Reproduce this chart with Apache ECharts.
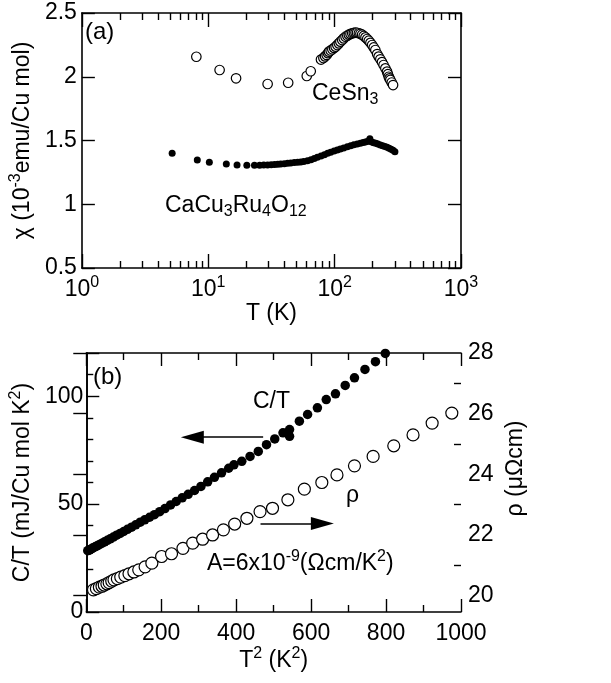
<!DOCTYPE html>
<html><head><meta charset="utf-8">
<script src="https://cdn.jsdelivr.net/npm/echarts@6/dist/echarts.min.js"></script>
<style>html,body{margin:0;padding:0;background:#fff}#c{width:611px;height:683px}</style>
</head><body><div id="c"></div>
<script>
// ---- panel (a): susceptibility ----
const ceT   = [8.05,12.3,16.6,29.5,42.9,60.2,64.7,78,81.5,84,86.5,88.5,90.2,93,95.9,99,101.8,105,108,111,114.8,118,122,126,129.6,133.5,137.8,142,146.3,150.5,155.5,160,165,170,175.4,181,186.4,192,198,204,210,217,223,230,237,244,252,260,264,268,272,276,283,290];
const ceChi = [2.157,2.053,1.988,1.943,1.953,2.006,2.043,2.135,2.147,2.160,2.171,2.185,2.197,2.206,2.215,2.226,2.236,2.249,2.262,2.275,2.288,2.301,2.314,2.322,2.330,2.336,2.341,2.344,2.346,2.345,2.341,2.337,2.330,2.320,2.309,2.296,2.283,2.266,2.249,2.230,2.210,2.178,2.158,2.137,2.115,2.092,2.066,2.040,2.020,2.000,1.987,1.975,1.955,1.935];
const caT   = [5.18,8.19,10.2,13.9,16.9,20.2,23.2,25.5,27.5,29.5,31.5,33.5,35.5,37.5,40,42.5,45,48,51,54,57,61,65,69,73,78,83,88,93,99,105,111,118,126,134,142,151,160,168,175,182,190,197,204,212,220,230,240,250,260,270,280,290,300];
const caChi = [1.400,1.347,1.329,1.316,1.308,1.305,1.305,1.306,1.307,1.308,1.309,1.311,1.313,1.315,1.318,1.321,1.324,1.327,1.329,1.332,1.336,1.342,1.350,1.358,1.368,1.378,1.389,1.400,1.408,1.417,1.425,1.433,1.442,1.451,1.458,1.466,1.473,1.479,1.484,1.488,1.492,1.514,1.489,1.483,1.478,1.472,1.465,1.458,1.452,1.447,1.440,1.432,1.423,1.412];
// ---- panel (b): C/T and rho vs T^2 ----
const ctX = [4,6.3,9,12.3,16,20.3,25,30.3,36,42.3,49,56.3,64,72.3,81,90.3,100,110,121,132,144,156,169,182,196,210,225,240,256,272,289,306,324,342,361,380,394,415,437,459,481,503,525,542.5,542.5,568.7,590.6,616.8,640.4,665,691,715.7,743.7,771.7,798];
const ctY = [28.4,28.6,28.8,29.1,29.5,29.9,30.3,30.8,31.3,31.9,32.5,33.2,33.9,34.7,35.6,36.4,37.3,38.3,39.3,40.4,41.6,42.7,43.9,45.1,46.5,47.9,49.6,51.2,52.9,54.5,56.3,58.2,60.3,62.4,64.5,66.6,68.2,69.8,72.1,74.4,77.5,80.2,83,84.5,81.4,88.4,91.5,94.6,98.4,101.1,105,108.5,112.4,116,119.8];
const rhoX = [19.2,27,35,42,48,55,61,68,74,83,92,103,114,127,140,157,175,201,227.5,258,284,310.5,337,366,396,428.7,463.7,497,538,582,628.6,669,715.7,765.5,820.6,872,923,975.5];
const rhoY = [20.19,20.23,20.28,20.31,20.35,20.39,20.43,20.48,20.52,20.56,20.61,20.66,20.72,20.78,20.85,20.95,21.07,21.29,21.38,21.56,21.73,21.86,22.0,22.17,22.36,22.55,22.77,22.88,23.16,23.51,23.73,23.98,24.28,24.59,24.94,25.3,25.69,26.02];
// ---- ticks ----
const logMajor = [1,10,100,1000];
const logMinor = [2,3,4,5,6,7,8,9,20,30,40,50,60,70,80,90,200,300,400,500,600,700,800,900];
const rhoMajor = [20,22,24,26,28];
const rhoMinor = [21,23,25,27];

const FF = 'Liberation Sans, Arial, Helvetica, sans-serif';
const FS = 23;
const richSS = {
  n: {fontSize: FS, fontFamily: FF, color: '#000', lineHeight: 29},
  s: {fontSize: 16, fontFamily: FF, color: '#000', verticalAlign: 'top', lineHeight: 16},
  d: {fontSize: 16, fontFamily: FF, color: '#000', verticalAlign: 'bottom', lineHeight: 16}
};
const zip = (a, b) => a.map((v, i) => [v, b[i]]);
const line = {show: true, lineStyle: {color: '#000', width: 1.6}};
const lbl = {color: '#000', fontSize: FS, fontFamily: FF};
const tk = {color: '#000', width: 1.4};

const G0 = {left: 80, top: 13, width: 381, height: 255};
const G1 = {left: 80, top: 353, width: 381, height: 259};

function logAx(pos, ticks, len, labels, showLine) {
  return {
    type: 'log', logBase: 10, min: 1, max: 1000, gridIndex: 0, position: pos,
    axisLine: showLine ? line : {show: false},
    axisTick: {show: true, inside: true, length: len, customValues: ticks, lineStyle: tk},
    axisLabel: labels ? {
      show: true, customValues: logMajor, margin: 7,
      formatter: v => '{n|10}{s|' + Math.round(Math.log10(v)) + '}', rich: richSS
    } : {show: false},
    splitLine: {show: false}
  };
}

const option = {
  animation: false,
  backgroundColor: '#fff',
  grid: [Object.assign({containLabel: false}, G0), Object.assign({containLabel: false}, G1)],
  xAxis: [
    Object.assign(logAx('bottom', logMajor, 14, true, true), {
      name: 'T (K)', nameLocation: 'middle', nameGap: 22,
      nameTextStyle: {color: '#000', fontSize: FS, fontFamily: FF}
    }),
    logAx('bottom', logMinor, 7, false, false),
    logAx('top', logMajor, 14, false, true),
    logAx('top', logMinor, 7, false, false),
    {
      type: 'value', gridIndex: 1, position: 'bottom', min: 0, max: 1000, interval: 200,
      axisLine: line,
      axisTick: {inside: true, length: 13, lineStyle: tk},
      minorTick: {show: true, splitNumber: 2, length: 7, lineStyle: tk},
      axisLabel: Object.assign({margin: 10, formatter: v => String(v)}, lbl),
      splitLine: {show: false},
      name: '{n|T}{s|2}{n| (K}{s|2}{n|)}', nameLocation: 'middle', nameGap: 34,
      nameTextStyle: {rich: richSS}
    },
    {
      type: 'value', gridIndex: 1, position: 'top', min: 0, max: 1000, interval: 200,
      axisLine: line,
      axisTick: {inside: true, length: 13, lineStyle: tk},
      minorTick: {show: true, splitNumber: 2, length: 7, lineStyle: tk},
      axisLabel: {show: false}, splitLine: {show: false}
    }
  ],
  yAxis: [
    {
      type: 'value', gridIndex: 0, position: 'left', min: 0.5, max: 2.5, interval: 0.5,
      axisLine: line,
      axisTick: {inside: true, length: 13, lineStyle: tk},
      axisLabel: Object.assign({margin: 5}, lbl), splitLine: {show: false},
      name: '{n|χ (10}{s|-3}{n|emu/Cu mol)}', nameLocation: 'middle', nameGap: 40, nameRotate: 90,
      nameTextStyle: {rich: richSS}
    },
    {
      type: 'value', gridIndex: 0, position: 'right', min: 0.5, max: 2.5, interval: 0.5,
      axisLine: line,
      axisTick: {inside: true, length: 13, lineStyle: tk},
      axisLabel: {show: false}, splitLine: {show: false}
    },
    {
      type: 'value', gridIndex: 1, position: 'left', min: 0, max: 120, interval: 50,
      axisLine: line,
      axisTick: {inside: true, length: 13, lineStyle: tk},
      minorTick: {show: true, splitNumber: 5, length: 7, lineStyle: tk},
      axisLabel: Object.assign({margin: 3, formatter: v => (v % 50 === 0 ? String(v) : '')}, lbl),
      splitLine: {show: false},
      name: '{n|C/T (mJ/Cu mol K}{s|2}{n|)}', nameLocation: 'middle', nameGap: 42, nameRotate: 90,
      nameTextStyle: {rich: richSS}
    },
    {
      type: 'value', gridIndex: 1, position: 'right', min: 19.46, max: 28,
      axisLine: line,
      axisTick: {inside: true, length: 13, customValues: rhoMajor, lineStyle: tk},
      axisLabel: Object.assign({margin: 7, customValues: rhoMajor}, lbl),
      splitLine: {show: false},
      name: 'ρ (μΩcm)', nameLocation: 'middle', nameGap: 38, nameRotate: 90,
      nameTextStyle: {color: '#000', fontSize: FS, fontFamily: FF, padding: [0, 0, 0, 28]}
    },
    {
      type: 'value', gridIndex: 1, position: 'right', min: 19.46, max: 28,
      axisLine: {show: false},
      axisTick: {inside: true, length: 7, customValues: rhoMinor, lineStyle: tk},
      axisLabel: {show: false}, splitLine: {show: false}
    }
  ],
  series: [
    {type: 'scatter', xAxisIndex: 0, yAxisIndex: 0, data: zip(ceT, ceChi), symbol: 'circle', symbolSize: 9.5,
     itemStyle: {color: '#fff', borderColor: '#000', borderWidth: 1.2, opacity: 1}},
    {type: 'scatter', xAxisIndex: 0, yAxisIndex: 0, data: zip(caT, caChi), symbol: 'circle', symbolSize: 7,
     itemStyle: {color: '#000', opacity: 1}},
    {type: 'scatter', xAxisIndex: 4, yAxisIndex: 3, data: zip(rhoX, rhoY), symbol: 'circle', symbolSize: 12,
     itemStyle: {color: '#fff', borderColor: '#000', borderWidth: 1.2, opacity: 1}},
    {type: 'scatter', xAxisIndex: 4, yAxisIndex: 2, data: zip(ctX, ctY), symbol: 'circle', symbolSize: 9.5,
     itemStyle: {color: '#000', opacity: 1},
     markLine: {
       silent: true, symbol: ['none', 'triangle'], symbolSize: [13, 23],
       lineStyle: {color: '#000', width: 1.6, type: 'solid'}, label: {show: false},
       data: [
         [{coord: [472, 81]}, {coord: [283, 81]}],
         [{coord: [465, 41]}, {coord: [630, 41]}]
       ]
     }}
  ],
  graphic: [
    {type: 'text', left: 85, top: 20, style: {text: '(a)', fontSize: FS + 1, fontFamily: FF, fill: '#000'}},
    {type: 'text', left: 312, top: 82, style: {text: '{n|CeSn}{d|3}', rich: richSS, fill: '#000'}},
    {type: 'text', left: 165, top: 194, style: {text: '{n|CaCu}{d|3}{n|Ru}{d|4}{n|O}{d|12}', rich: richSS, fill: '#000'}},
    {type: 'text', left: 93, top: 365, style: {text: '(b)', fontSize: FS + 1, fontFamily: FF, fill: '#000'}},
    {type: 'text', left: 253, top: 390, style: {text: 'C/T', fontSize: FS, fontFamily: FF, fill: '#000'}},
    {type: 'text', left: 346, top: 484, style: {text: 'ρ', fontSize: FS, fontFamily: FF, fill: '#000'}},
    {type: 'text', left: 207, top: 549, style: {text: '{n|A=6x10}{s|-9}{n|(Ωcm/K}{s|2}{n|)}', rich: richSS, fill: '#000'}}
  ]
};
const chart = echarts.init(document.getElementById('c'), null, {renderer: 'canvas'});
chart.setOption(option);
</script></body></html>
